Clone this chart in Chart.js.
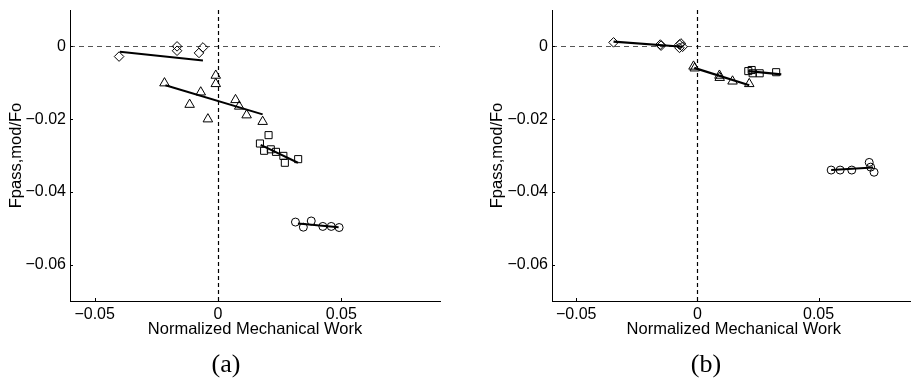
<!DOCTYPE html>
<html>
<head>
<meta charset="utf-8">
<script src="https://cdn.jsdelivr.net/npm/chart.js@4/dist/chart.umd.min.js"></script>
<style>
  html, body { margin: 0; padding: 0; background: #fff; overflow: hidden; width: 911px; height: 378px; }
  .panel { position: absolute; top: 0; }
  .caption { position: absolute; font-family: 'Liberation Serif', 'Times New Roman', serif; font-size: 26px; color: #000; transform: translate(-50%, -50%); white-space: nowrap; }
</style>
</head>
<body>
<canvas id="chartA" class="panel" style="left:0px" width="460" height="378"></canvas>
<canvas id="chartB" class="panel" style="left:460px" width="462" height="378"></canvas>
<div class="caption" style="left:226px; top:364px">(a)</div>
<div class="caption" style="left:706px; top:364px">(b)</div>
<script>
// Axis ticks shared by both panels
const xTicks = [-0.05, 0, 0.05];
const xTickLabels = ['\u22120.05', '0', '0.05'];
const yTicks = [-0.06, -0.04, -0.02, 0];
const yTickLabels = ['\u22120.06', '\u22120.04', '\u22120.02', '0'];
const xTitle = 'Normalized Mechanical Work';
const yTitle = 'Fpass,mod/Fo';

// Panel (a): measured points per group
const diamondAx = [-0.0401, -0.0166, -0.0166, -0.0077, -0.0061];
const diamondAy = [-0.0028, 0.0000, -0.0012, -0.0018, -0.0003];
const triangleAx = [-0.0217, -0.0009, -0.0009, -0.0070, -0.0115, -0.0041, 0.0071, 0.0086, 0.0116, 0.0181];
const triangleAy = [-0.0101, -0.0080, -0.0103, -0.0126, -0.0160, -0.0200, -0.0147, -0.0165, -0.0189, -0.0207];
const squareAx = [0.0170, 0.0205, 0.0187, 0.0214, 0.0235, 0.0265, 0.0271, 0.0325];
const squareAy = [-0.0267, -0.0244, -0.0287, -0.0283, -0.0290, -0.0301, -0.0320, -0.0310];
const circleAx = [0.0314, 0.0346, 0.0378, 0.0425, 0.0459, 0.0491];
const circleAy = [-0.0483, -0.0497, -0.0480, -0.0495, -0.0495, -0.0498];
// Panel (a): fitted line end points per group
const fitDiamondAx = [-0.0398, -0.0061];
const fitDiamondAy = [-0.00145, -0.0039];
const fitTriangleAx = [-0.0213, 0.0181];
const fitTriangleAy = [-0.0107, -0.0187];
const fitSquareAx = [0.0173, 0.0324];
const fitSquareAy = [-0.0271, -0.0320];
const fitCircleAx = [0.0324, 0.0489];
const fitCircleAy = [-0.0487, -0.0497];

// Panel (b): measured points per group
const diamondBx = [-0.0346, -0.0153, -0.0150, -0.0074, -0.0068, -0.0061, -0.0074];
const diamondBy = [0.0011, 0.0005, 0.0002, 0.0005, 0.0008, -0.0001, -0.0004];
const triangleBx = [-0.0016, -0.0011, 0.0091, 0.0092, 0.0145, 0.0214];
const triangleBy = [-0.0055, -0.0060, -0.0080, -0.0086, -0.0096, -0.0103];
const squareBx = [0.0210, 0.0224, 0.0228, 0.0257, 0.0325];
const squareBy = [-0.0068, -0.0065, -0.0074, -0.0074, -0.0071];
const circleBx = [0.0552, 0.0589, 0.0637, 0.0709, 0.0715, 0.0729];
const circleBy = [-0.0340, -0.0340, -0.0340, -0.0319, -0.0332, -0.0346];
// Panel (b): fitted line end points per group
const fitDiamondBx = [-0.0346, -0.0061];
const fitDiamondBy = [0.0013, -0.0001];
const fitTriangleBx = [-0.0013, 0.0214];
const fitTriangleBy = [-0.0059, -0.0107];
const fitSquareBx = [0.0210, 0.0346];
const fitSquareBy = [-0.0068, -0.0077];
const fitCircleBx = [0.0552, 0.0725];
const fitCircleBy = [-0.0340, -0.0333];

const sans = "'Liberation Sans', Arial, Helvetica, sans-serif";

function pts(xs, ys) { return xs.map((x, i) => ({ x: x, y: ys[i] })); }

function markers(xs, ys, style, radius) {
  return {
    type: 'scatter', data: pts(xs, ys), showLine: false,
    pointStyle: style, pointRadius: radius, pointHoverRadius: radius,
    pointBorderColor: '#000', pointBackgroundColor: 'rgba(0,0,0,0)', pointBorderWidth: 1
  };
}
function fit(xs, ys, width) {
  return {
    type: 'line', data: pts(xs, ys), showLine: true, borderColor: '#000',
    borderWidth: width, pointRadius: 0, fill: false, tension: 0
  };
}

// Dashed zero lines through the origin, drawn under the data
const zeroLines = {
  id: 'zeroLines',
  beforeDatasetsDraw(chart) {
    const { ctx, chartArea: a, scales: { x, y } } = chart;
    const px = Math.round(x.getPixelForValue(0)) + 0.5;
    const py = Math.round(y.getPixelForValue(0)) + 0.5;
    ctx.save();
    ctx.lineWidth = 1;
    ctx.setLineDash([5, 4]);
    ctx.strokeStyle = '#555';
    ctx.beginPath(); ctx.moveTo(a.left, py); ctx.lineTo(a.right, py); ctx.stroke();
    ctx.setLineDash([4, 3]);
    ctx.strokeStyle = '#000';
    ctx.lineWidth = 1.2;
    ctx.beginPath(); ctx.moveTo(px, a.top); ctx.lineTo(px, a.bottom); ctx.stroke();
    ctx.restore();
  }
};

// Short tick marks pointing into the plot area
const innerTicks = {
  id: 'innerTicks',
  afterDraw(chart) {
    const { ctx, chartArea: a, scales: { x, y } } = chart;
    ctx.save();
    ctx.strokeStyle = '#000';
    ctx.lineWidth = 1;
    ctx.beginPath();
    x.ticks.forEach(t => {
      const p = Math.round(x.getPixelForValue(t.value)) + 0.5;
      ctx.moveTo(p, a.bottom); ctx.lineTo(p, a.bottom - 3);
    });
    y.ticks.forEach(t => {
      const p = Math.round(y.getPixelForValue(t.value)) + 0.5;
      ctx.moveTo(a.left, p); ctx.lineTo(a.left + 3, p);
    });
    ctx.stroke();
    ctx.restore();
  }
};

function options(yWidth, yTitlePad, padRight) {
  return {
    responsive: false,
    animation: false,
    events: [],
    layout: { padding: { top: 10, right: padRight, left: 0, bottom: 0 } },
    plugins: { legend: { display: false }, tooltip: { enabled: false } },
    scales: {
      x: {
        type: 'linear', min: -0.06, max: 0.09,
        grid: { display: false, drawTicks: false },
        border: { display: true, color: '#000', width: 1 },
        afterBuildTicks: s => { s.ticks = xTicks.map(v => ({ value: v })); },
        afterFit: s => { s.height = 77; s.paddingLeft = 0; s.paddingRight = 0; },
        ticks: {
          padding: 4, color: '#000', font: { family: sans, size: 16 },
          callback: v => xTickLabels[xTicks.indexOf(v)]
        },
        title: {
          display: true, text: xTitle, color: '#000',
          font: { family: sans, size: 16.5 }, padding: { top: 0, bottom: 38.5 }
        }
      },
      y: {
        type: 'linear', min: -0.07, max: 0.01,
        grid: { display: false, drawTicks: false },
        border: { display: true, color: '#000', width: 1 },
        afterBuildTicks: s => { s.ticks = yTicks.map(v => ({ value: v })); },
        afterFit: s => { s.width = yWidth; s.paddingTop = 0; s.paddingBottom = 0; },
        ticks: {
          padding: 4, color: '#000', font: { family: sans, size: 16 },
          callback: v => yTickLabels[yTicks.indexOf(v)]
        },
        title: {
          display: true, text: yTitle, color: '#000',
          font: { family: sans, size: 16.5 }, padding: { top: yTitlePad, bottom: 0 }
        }
      }
    }
  };
}

new Chart(document.getElementById('chartA'), {
  data: {
    datasets: [
      fit(fitDiamondAx, fitDiamondAy, 2),
      fit(fitTriangleAx, fitTriangleAy, 2),
      fit(fitSquareAx, fitSquareAy, 2),
      fit(fitCircleAx, fitCircleAy, 2),
      markers(diamondAx, diamondAy, 'rectRot', 4.8),
      markers(triangleAx, triangleAy, 'triangle', 5.5),
      markers(squareAx, squareAy, 'rect', 5),
      markers(circleAx, circleAy, 'circle', 4)
    ]
  },
  options: options(70, 7, 20),
  plugins: [zeroLines, innerTicks]
});

new Chart(document.getElementById('chartB'), {
  data: {
    datasets: [
      fit(fitDiamondBx, fitDiamondBy, 2.2),
      fit(fitTriangleBx, fitTriangleBy, 2.2),
      fit(fitSquareBx, fitSquareBy, 2.2),
      fit(fitCircleBx, fitCircleBy, 2),
      markers(diamondBx, diamondBy, 'rectRot', 4.8),
      markers(triangleBx, triangleBy, 'triangle', 5.5),
      markers(squareBx, squareBy, 'rect', 5),
      markers(circleBx, circleBy, 'circle', 4)
    ]
  },
  options: options(92, 28, 1),
  plugins: [zeroLines, innerTicks]
});
</script>
</body>
</html>
